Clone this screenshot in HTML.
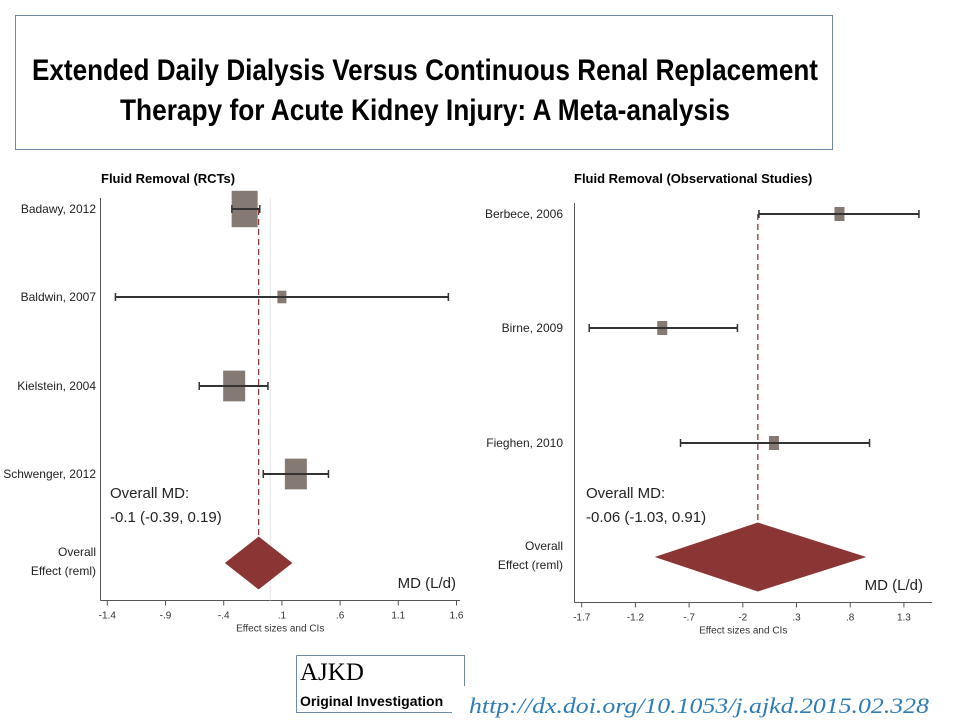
<!DOCTYPE html>
<html><head><meta charset="utf-8"><style>
html,body{margin:0;padding:0;background:#fff;}
svg{display:block;}
text{font-family:"Liberation Sans Narrow","Liberation Sans",sans-serif;}
</style></head><body>
<svg id="root" width="960" height="720" viewBox="0 0 960 720" xmlns="http://www.w3.org/2000/svg">
  <rect x="15.5" y="15.5" width="817" height="134" fill="#fff" stroke="#6d88a8" stroke-width="1"/>
  <text x="32" y="80" font-size="30" font-weight="bold" textLength="786" lengthAdjust="spacingAndGlyphs">Extended Daily Dialysis Versus Continuous Renal Replacement</text>
  <text x="120" y="120" font-size="30" font-weight="bold" textLength="610" lengthAdjust="spacingAndGlyphs">Therapy for Acute Kidney Injury: A Meta-analysis</text>
  <g id="left"></g>
  <g id="right"></g>
  <g>
    <path d="M296.5 655.5 H464.5 V686 M296.5 655.5 V712.5 H452" fill="none" stroke="#6d88a8" stroke-width="1"/>
    <text x="300" y="680" font-family="Liberation Serif, serif" font-size="25" style="font-family:'Liberation Serif',serif">AJKD</text>
    <text x="300" y="706" font-size="14" font-weight="bold">Original Investigation</text>
  </g>
  <text x="469" y="713" font-size="22" font-style="italic" fill="#2e7cb6" textLength="460" lengthAdjust="spacingAndGlyphs" style="font-family:'Liberation Serif',serif">http://dx.doi.org/10.1053/j.ajkd.2015.02.328</text>
</svg>
<script>
// ---- Left panel data (RCTs) ----
const leftStudies = ["Badawy, 2012","Baldwin, 2007","Kielstein, 2004","Schwenger, 2012"];
const leftMD = [-0.22, 0.10, -0.31, 0.22];
const leftLo = [-0.33, -1.33, -0.61, -0.06];
const leftHi = [-0.09, 1.53, -0.02, 0.50];
const leftWeight = [26, 9, 22, 22];
const leftOverall = [-0.10, -0.39, 0.19];
const leftTicks = [-1.4, -0.9, -0.4, 0.1, 0.6, 1.1, 1.6];
const leftTickLabels = ["-1.4","-.9","-.4",".1",".6","1.1","1.6"];
// ---- Right panel data (Observational) ----
const rightStudies = ["Berbece, 2006","Birne, 2009","Fieghen, 2010"];
const rightMD = [0.70, -0.95, 0.09];
const rightLo = [-0.05, -1.63, -0.78];
const rightHi = [1.44, -0.25, 0.98];
const rightWeight = [10, 10, 10];
const rightOverall = [-0.06, -1.02, 0.95];
const rightTicks = [-1.7, -1.2, -0.7, -0.2, 0.3, 0.8, 1.3];
const rightTickLabels = ["-1.7","-1.2","-.7","-2",".3",".8","1.3"];

const NS = "http://www.w3.org/2000/svg";
function mk(parent, tag, attrs, txt){
  const e = document.createElementNS(NS, tag);
  for (const k in attrs) e.setAttribute(k, attrs[k]);
  if (txt !== undefined) e.textContent = txt;
  parent.appendChild(e);
  return e;
}

function drawPanel(g, cfg){
  const sx = v => cfg.x0 + (v - cfg.v0) * cfg.ppu;
  // title
  let t = mk(g, "text", {x: cfg.titleX, y: cfg.titleY, "font-size": 13, "font-weight": "bold"}, cfg.title);
  
  
  // axes
  let ax = mk(g, "line", {x1: cfg.axL, y1: cfg.axTop, x2: cfg.axL, y2: cfg.axY, stroke: "#555", "stroke-width": 1});
  
  
  let xa = mk(g, "line", {x1: cfg.axL, y1: cfg.axY, x2: cfg.axR, y2: cfg.axY, stroke: "#555", "stroke-width": 1});
  
  
  // zero line
  if (cfg.zeroLine){
    let z = mk(g, "line", {x1: sx(0), y1: cfg.axTop, x2: sx(0), y2: cfg.axY, stroke: "#e6e6e6", "stroke-width": 1});
    
    
  }
  // ticks
  cfg.ticks.forEach((v, i) => {
    let tk = mk(g, "line", {x1: sx(v), y1: cfg.axY, x2: sx(v), y2: cfg.axY + 5, stroke: "#555"});
    
    
    let tl = mk(g, "text", {x: sx(v), y: cfg.axY + 18, "font-size": 10, "text-anchor": "middle", fill: "#333"}, cfg.tickLabels[i]);
    
    
  });
  let xt = mk(g, "text", {x: (cfg.axL + cfg.axR) / 2 + cfg.xtOff, y: cfg.axY + 31, "font-size": 10, "text-anchor": "middle", fill: "#333"}, "Effect sizes and CIs");
  
  
  // dashed overall line
  let d = mk(g, "line", {x1: sx(cfg.overall[0]), y1: cfg.rowY[0], x2: sx(cfg.overall[0]), y2: cfg.diaY - cfg.diaH/2, stroke: "#8b3a3a", "stroke-width": 1.3, "stroke-dasharray": "6,4"});
  
  
  // studies
  cfg.studies.forEach((s, i) => {
    const y = cfg.rowY[i];
    let lab = mk(g, "text", {x: cfg.labelX, y: y + 4, "font-size": 12, "text-anchor": "end", fill: "#222"}, s);
    
    
    const w = cfg.weight[i], h = w * 1.4;
    let b = mk(g, "rect", {x: sx(cfg.md[i]) - w/2, y: y - h/2, width: w, height: h, fill: "#857a73"});
    
    
    let ci = mk(g, "line", {x1: sx(cfg.lo[i]), y1: y, x2: sx(cfg.hi[i]), y2: y, stroke: "#333", "stroke-width": 2});
    
    
    [cfg.lo[i], cfg.hi[i]].forEach(v => {
      let c = mk(g, "line", {x1: sx(v), y1: y - 4, x2: sx(v), y2: y + 4, stroke: "#333", "stroke-width": 1.5});
      
      
    });
  });
  // diamond
  const o = cfg.overall;
  let dm = mk(g, "polygon", {points: `${sx(o[1])},${cfg.diaY} ${sx(o[0])},${cfg.diaY - cfg.diaH/2} ${sx(o[2])},${cfg.diaY} ${sx(o[0])},${cfg.diaY + cfg.diaH/2}`, fill: "#8b3535"});
  
  
  // overall label
  let ol1 = mk(g, "text", {x: cfg.labelX, y: cfg.diaY - 7, "font-size": 12, "text-anchor": "end", fill: "#222"}, "Overall");
  
  
  let ol2 = mk(g, "text", {x: cfg.labelX, y: cfg.diaY + 12, "font-size": 12, "text-anchor": "end", fill: "#222"}, "Effect (reml)");
  
  
  // MD annotation
  let a1 = mk(g, "text", {x: cfg.annX, y: cfg.annY, "font-size": 15, fill: "#222"}, "Overall MD:");
  
  
  let a2 = mk(g, "text", {x: cfg.annX, y: cfg.annY + 24, "font-size": 15, fill: "#222"}, cfg.annText);
  
  
  let u = mk(g, "text", {x: cfg.unitX, y: cfg.unitY, "font-size": 15, "text-anchor": "end", fill: "#222"}, "MD (L/d)");
  
  
}

drawPanel(document.getElementById("left"), {
  title: "Fluid Removal (RCTs)", titleX: 101, titleY: 183,
  x0: 107.3, v0: -1.4, ppu: 116.4,
  axL: 100.5, axR: 460, axTop: 198, axY: 600.5, zeroLine: true, xtOff: 0,
  ticks: leftTicks, tickLabels: leftTickLabels,
  studies: leftStudies, md: leftMD, lo: leftLo, hi: leftHi, weight: leftWeight,
  rowY: [209, 297, 386, 474], overall: leftOverall, diaY: 563, diaH: 53,
  labelX: 96, annX: 110, annY: 498, annText: "-0.1 (-0.39, 0.19)",
  unitX: 456, unitY: 588
});
drawPanel(document.getElementById("right"), {
  title: "Fluid Removal (Observational Studies)", titleX: 574, titleY: 183,
  x0: 581.7, v0: -1.7, ppu: 107.4,
  axL: 574.5, axR: 932, axTop: 203, axY: 602.5, zeroLine: false, xtOff: -10,
  ticks: rightTicks, tickLabels: rightTickLabels,
  studies: rightStudies, md: rightMD, lo: rightLo, hi: rightHi, weight: rightWeight,
  rowY: [214, 328, 443], overall: rightOverall, diaY: 557, diaH: 69,
  labelX: 563, annX: 586, annY: 498, annText: "-0.06 (-1.03, 0.91)",
  unitX: 923, unitY: 590
});
</script>
</body></html>
